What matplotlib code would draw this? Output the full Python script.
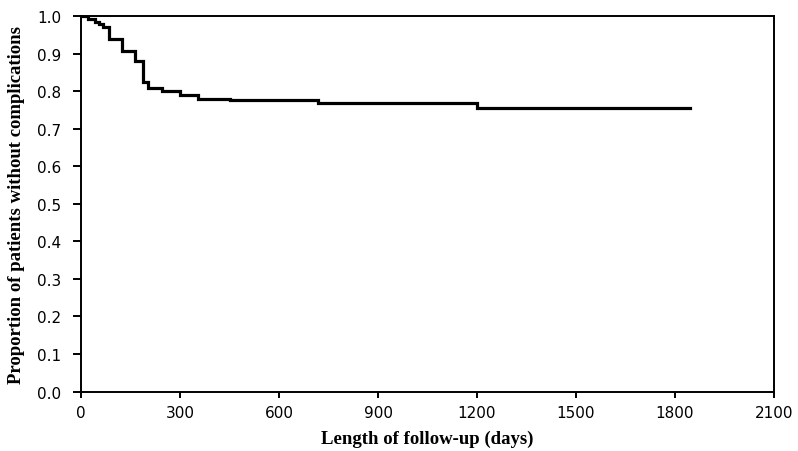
import matplotlib
matplotlib.use('Agg')
from matplotlib import pyplot as plt

# Kaplan-Meier estimate
days = [0, 21, 42, 55, 67, 85, 124, 164, 188, 203, 245, 300, 355, 452, 718, 1200, 1845]
surv = [1.0, 0.993, 0.985, 0.978, 0.97, 0.94, 0.908, 0.881, 0.825, 0.807, 0.799, 0.79, 0.78, 0.777, 0.767, 0.755, 0.755]

x_ticks = [0, 300, 600, 900, 1200, 1500, 1800, 2100]
y_ticks = [0.0, 0.1, 0.2, 0.3, 0.4, 0.5, 0.6, 0.7, 0.8, 0.9, 1.0]

fig = plt.figure(figsize=(7.98, 4.52), dpi=100, facecolor='white')
ax = fig.add_axes([0.1015, 0.1316, 0.8685, 0.8308])

ax.step(days, surv, where='post', color='black', linewidth=2.3, solid_joinstyle='miter')

ax.set_xlim(0, 2100)
ax.set_ylim(0, 1.0)
ax.set_xticks(x_ticks)
ax.set_yticks(y_ticks)
ax.set_yticklabels([f'{v:.1f}' for v in y_ticks])

for s in ax.spines.values():
    s.set_linewidth(1.4)
    s.set_color('black')

ax.tick_params(axis='x', direction='out', length=4, width=1.4, labelsize=11, pad=6)
ax.tick_params(axis='y', direction='out', length=6, width=1.4, labelsize=11, pad=8)
for lbl in ax.get_yticklabels():
    lbl.set_fontweight('medium')

serif = {'family': ['Liberation Serif', 'DejaVu Serif'], 'weight': 'bold', 'size': 13.5}
ax.set_xlabel('Length of follow-up (days)', fontdict=serif, labelpad=7)
ax.set_ylabel('Proportion of patients without complications', fontdict=serif, labelpad=9)

plt.savefig('out.png', dpi=100)
